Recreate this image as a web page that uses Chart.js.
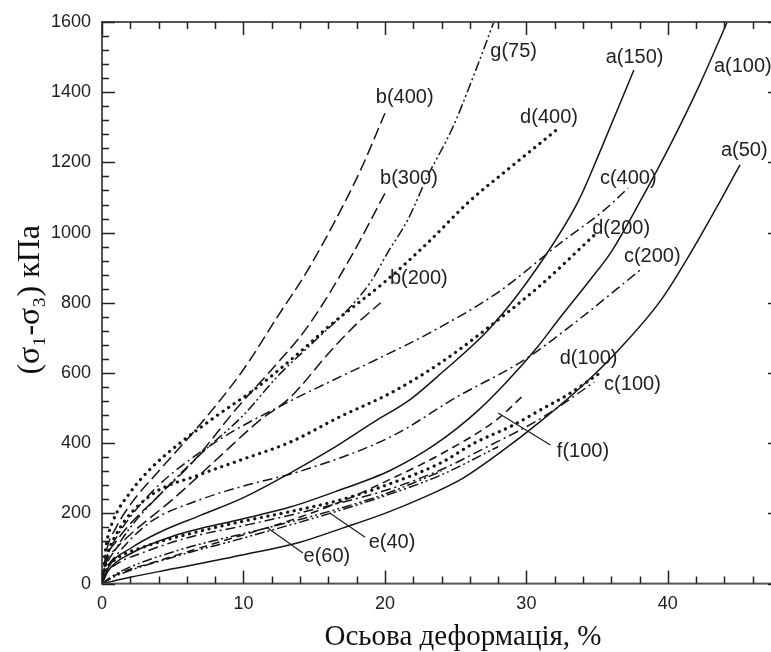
<!DOCTYPE html>
<html>
<head>
<meta charset="utf-8">
<script src="https://cdn.jsdelivr.net/npm/chart.js@4.4.1/dist/chart.umd.min.js"></script>
<style>
  html, body { margin: 0; padding: 0; background: #fff; overflow: hidden; }
  canvas { display: block; }
</style>
</head>
<body>
<canvas id="chart" width="781" height="652"></canvas>
<script>
// curves: [strain %, deviator stress kPa]
var a50 = [[0,0],[2,18],[5,42],[10,82],[14,118],[17,158],[20,200],[22.7,245],[25.5,300],[28.2,375],[31,462],[33.8,558],[36.5,665],[39.5,807],[41.8,955],[43.7,1090],[45.1,1193]];
var a100 = [[0,0],[0.5,40],[2,85],[5,135],[10,185],[13.3,218],[16.5,262],[20.4,323],[23.5,395],[26.5,490],[28.5,570],[30.8,675],[32.4,759],[34.5,865],[36,945],[38.1,1093],[40.3,1260],[42.3,1426],[44.2,1600]];
var a150 = [[0,0],[0.5,50],[2,100],[4,145],[7,195],[10,245],[13.3,315],[16.1,380],[19.2,460],[21.8,525],[24,600],[27.5,731],[30.8,902],[33.7,1092],[35.3,1240],[37.6,1463]];
var b200 = [[0,0],[0.3,60],[1,100],[2,140],[5,240],[8,350],[11,460],[13.3,530],[16.1,660],[18,740],[19.7,800]];
var b300 = [[0,0],[0.3,70],[1,120],[2,170],[4,250],[6.5,350],[9.6,503],[12,610],[14.5,730],[17.6,931],[20,1112]];
var b400 = [[0,0],[0.3,90],[1,160],[2,225],[4,320],[7.2,466],[10,610],[12.4,760],[14.5,890],[16.5,1035],[18.3,1180],[20,1340]];
var c100 = [[0,0],[0.3,30],[1,55],[3,90],[6,130],[10,165],[13.3,195],[17,232],[20.4,270],[24,325],[27,385],[31,470],[34.8,574]];
var c200 = [[0,0],[0.3,40],[1,80],[3.4,175],[7,240],[10,278],[14,320],[20.4,418],[25.1,532],[29.8,636],[33,730],[38.1,895]];
var c400 = [[0,0],[0.3,70],[1,130],[2,190],[4,280],[8.1,405],[13.3,520],[16.1,575],[20,650],[23.2,715],[28,830],[32.4,970],[35.5,1064],[37.2,1127]];
var d100 = [[0,0],[0.3,40],[1,70],[3,105],[6,140],[10,178],[13.3,205],[17,240],[20.4,285],[24,345],[26.3,400],[29,450],[31,495],[33,540],[35.2,600]];
var d200 = [[0,0],[0.3,70],[1,140],[3.4,250],[6.9,310],[9.8,352],[13.3,403],[16.8,475],[20.4,543],[23.9,628],[27,720],[31,850],[34.8,993]];
var d400 = [[0,0],[0.3,110],[0.8,180],[2,260],[3.5,330],[5.5,400],[8,475],[11,560],[14,660],[16.1,735],[20,860],[23,970],[26,1090],[29,1190],[32.3,1298]];
var e40 = [[0,0],[1,22],[5,75],[10,130],[16.1,200],[20,250],[24,310],[28,390]];
var e60 = [[0,0],[1,28],[5,90],[11.7,159],[16,205],[20,255],[24,320]];
var f100 = [[0,0],[1,25],[4,65],[8,115],[13.3,180],[17,235],[20,290],[24,370],[28,470],[29.8,537]];
var g75 = [[0,0],[0.3,50],[1,100],[2,160],[4,250],[7,370],[10,480],[12.4,590],[15,690],[17.6,790],[19,860],[20.3,950],[21.6,1035],[23,1159],[24.8,1300],[26.3,1450],[27.7,1600]];

var xTicks = [0, 10, 20, 30, 40];
var yTicks = [0, 200, 400, 600, 800, 1000, 1200, 1400, 1600];

// curve labels, anchored in data units
var labelText = ["g(75)", "b(400)", "b(300)", "b(200)", "d(400)", "a(150)", "a(100)", "a(50)",
                 "c(400)", "d(200)", "c(200)", "d(100)", "c(100)", "f(100)", "e(40)", "e(60)"];
var labelX = [29.1, 21.4, 21.7, 22.4, 31.6, 37.65, 45.3, 45.4, 37.2, 36.7, 38.9, 34.4, 37.5, 34.0, 20.5, 15.9];
var labelY = [1515, 1386, 1155, 870, 1327, 1500, 1472, 1235, 1155, 1013, 931, 642, 568, 375, 118, 76];

// leader lines: [fromX, fromY, toX, toY]
var leaders = [[31.7, 395, 28.0, 486], [18.6, 132, 16.1, 201], [14.2, 87, 11.7, 159]];

var SOLID = [], LONGDASH = [12, 5], DASHDOT = [10, 4, 2, 4], DOTS = [0.1, 6.6],
    DASH2DOT = [10, 3, 2, 3, 2, 3], DASH = [8, 5];

function pts(arr) {
  return arr.map(function (p) { return { x: p[0], y: p[1] }; });
}

function curve(name, arr, dash) {
  var dotted = dash === DOTS;
  return {
    label: name,
    data: pts(arr),
    borderColor: "#151515",
    borderWidth: dotted ? 3.2 : 1.5,
    borderDash: dash,
    borderCapStyle: dotted ? "round" : "butt",
    pointRadius: 0,
    fill: false,
    cubicInterpolationMode: "monotone"
  };
}

var frameAndTicks = {
  id: "frameAndTicks",
  afterDatasetsDraw: function (chart) {
    var ctx = chart.ctx, a = chart.chartArea;
    var xs = chart.scales.x, ys = chart.scales.y;
    ctx.save();
    // leader lines
    ctx.strokeStyle = "#222";
    ctx.lineWidth = 1.3;
    ctx.beginPath();
    leaders.forEach(function (l) {
      ctx.moveTo(xs.getPixelForValue(l[0]), ys.getPixelForValue(l[1]));
      ctx.lineTo(xs.getPixelForValue(l[2]), ys.getPixelForValue(l[3]));
    });
    ctx.stroke();

    // labels
    ctx.fillStyle = "#222";
    ctx.font = "20px 'Liberation Sans', Arial, sans-serif";
    ctx.textAlign = "center";
    ctx.textBaseline = "middle";
    for (var i = 0; i < labelText.length; i++) {
      ctx.fillText(labelText[i], xs.getPixelForValue(labelX[i]), ys.getPixelForValue(labelY[i]));
    }

    // frame
    ctx.strokeStyle = "#555";
    ctx.lineWidth = 2;
    ctx.strokeRect(a.left, a.top, a.right - a.left, a.bottom - a.top);

    // inward ticks, major and minor
    ctx.strokeStyle = "#222";
    ctx.lineWidth = 1.5;
    ctx.beginPath();
    var nx = Math.round((xs.max - xs.min) / 2);
    for (var k = 0; k <= nx; k++) {
      var v = xs.min + k * 2;
      var px = Math.round(xs.getPixelForValue(v)) + 0.5;
      var len = (v % 10 === 0) ? 13 : 7;
      ctx.moveTo(px, a.bottom); ctx.lineTo(px, a.bottom - len);
      ctx.moveTo(px, a.top); ctx.lineTo(px, a.top + len);
    }
    var ny = Math.round((ys.max - ys.min) / 40);
    for (var j = 0; j <= ny; j++) {
      var w = ys.min + j * 40;
      var py = Math.round(ys.getPixelForValue(w)) + 0.5;
      var l2 = (w % 200 === 0) ? 13 : 7;
      ctx.moveTo(a.left, py); ctx.lineTo(a.left + l2, py);
      ctx.moveTo(a.right, py); ctx.lineTo(a.right - l2, py);
    }
    ctx.stroke();

    // axis titles
    ctx.fillStyle = "#111";
    ctx.font = "29px 'Liberation Serif', 'Times New Roman', serif";
    ctx.textAlign = "center";
    ctx.textBaseline = "middle";
    ctx.fillText("Осьова деформація, %", a.left + 361, 637);
    ctx.font = "32px 'Liberation Serif', 'Times New Roman', serif";
    ctx.translate(31, (a.top + a.bottom) / 2 - 3);
    ctx.rotate(-Math.PI / 2);
    ctx.fillText("(σ₁-σ₃) кПа", 0, 0);
    ctx.restore();
  }
};

function plain(v) { return String(v); }

var ctx0 = document.getElementById("chart");
var myChart = new Chart(ctx0, {
  type: "line",
  data: {
    datasets: [
      curve("a(50)", a50, SOLID),
      curve("a(100)", a100, SOLID),
      curve("a(150)", a150, SOLID),
      curve("b(200)", b200, LONGDASH),
      curve("b(300)", b300, LONGDASH),
      curve("b(400)", b400, LONGDASH),
      curve("c(100)", c100, DASHDOT),
      curve("c(200)", c200, DASHDOT),
      curve("c(400)", c400, DASHDOT),
      curve("d(100)", d100, DOTS),
      curve("d(200)", d200, DOTS),
      curve("d(400)", d400, DOTS),
      curve("e(40)", e40, DASH2DOT),
      curve("e(60)", e60, DASH2DOT),
      curve("f(100)", f100, DASH),
      curve("g(75)", g75, DASH2DOT)
    ]
  },
  options: {
    responsive: false,
    devicePixelRatio: 1,
    animation: false,
    layout: { padding: { top: 22, right: 0, bottom: 0, left: 0 } },
    plugins: { legend: { display: false }, tooltip: { enabled: false } },
    scales: {
      x: {
        type: "linear",
        min: 0,
        max: 48,
        afterBuildTicks: function (s) { s.ticks = xTicks.map(function (v) { return { value: v }; }); },
        afterFit: function (s) { s.height = 68.4; },
        grid: { display: false, drawTicks: false },
        border: { display: false },
        ticks: { color: "#222", padding: 10, maxRotation: 0, callback: plain, font: { family: "'Liberation Sans', Arial, sans-serif", size: 18 } }
      },
      y: {
        type: "linear",
        min: 0,
        max: 1600,
        afterBuildTicks: function (s) { s.ticks = yTicks.map(function (v) { return { value: v }; }); },
        afterFit: function (s) { s.width = 102; },
        grid: { display: false, drawTicks: false },
        border: { display: false },
        ticks: { color: "#222", padding: 11, callback: plain, font: { family: "'Liberation Sans', Arial, sans-serif", size: 18 } }
      }
    }
  },
  plugins: [frameAndTicks]
});
</script>
</body>
</html>
